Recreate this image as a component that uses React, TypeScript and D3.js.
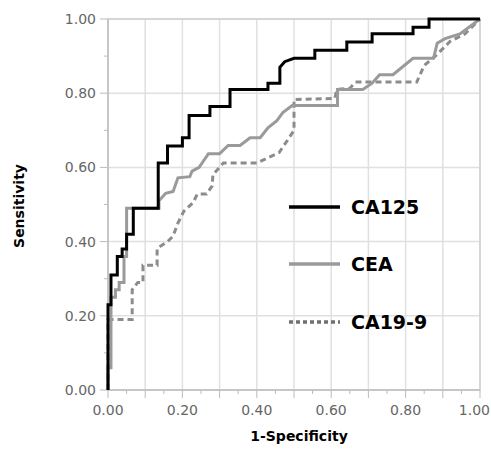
import React from 'react';
import * as d3 from 'd3';

// ROC points: [1-specificity, sensitivity]
const ca125: [number, number][] = [
  [0, 0], [0, 0.23], [0.008, 0.23], [0.008, 0.31], [0.025, 0.31], [0.025, 0.36],
  [0.038, 0.36], [0.038, 0.38], [0.05, 0.38], [0.05, 0.42], [0.068, 0.42], [0.068, 0.49],
  [0.135, 0.49], [0.135, 0.612], [0.16, 0.612], [0.16, 0.658], [0.2, 0.658], [0.2, 0.68],
  [0.218, 0.68], [0.218, 0.74], [0.274, 0.74], [0.274, 0.764], [0.328, 0.764], [0.328, 0.81],
  [0.43, 0.81], [0.43, 0.827], [0.462, 0.827], [0.462, 0.87], [0.475, 0.885], [0.5, 0.894],
  [0.556, 0.894], [0.556, 0.916], [0.642, 0.916], [0.642, 0.938], [0.71, 0.938], [0.71, 0.96],
  [0.82, 0.96], [0.82, 0.978], [0.863, 0.978], [0.863, 1], [1, 1],
];

const cea: [number, number][] = [
  [0, 0], [0, 0.06], [0.008, 0.06], [0.008, 0.25], [0.02, 0.25], [0.02, 0.27],
  [0.03, 0.27], [0.03, 0.29], [0.043, 0.29], [0.043, 0.36], [0.05, 0.36], [0.05, 0.49],
  [0.137, 0.49], [0.137, 0.51], [0.155, 0.53], [0.175, 0.535], [0.188, 0.572], [0.22, 0.575],
  [0.226, 0.59], [0.245, 0.6], [0.27, 0.637], [0.3, 0.637], [0.323, 0.659], [0.355, 0.659],
  [0.382, 0.68], [0.409, 0.68], [0.43, 0.707], [0.454, 0.726], [0.47, 0.748], [0.495, 0.767],
  [0.617, 0.767], [0.617, 0.81], [0.685, 0.81], [0.71, 0.827], [0.73, 0.85], [0.766, 0.85],
  [0.82, 0.894], [0.875, 0.894], [0.885, 0.935], [0.906, 0.947], [0.946, 0.96], [1, 1],
];

const ca199: [number, number][] = [
  [0, 0], [0, 0.19], [0.065, 0.19], [0.065, 0.27], [0.08, 0.29], [0.094, 0.29],
  [0.094, 0.336], [0.132, 0.336], [0.132, 0.382], [0.16, 0.4], [0.175, 0.415], [0.188, 0.45],
  [0.204, 0.482], [0.228, 0.504], [0.24, 0.528], [0.265, 0.528], [0.28, 0.55], [0.282, 0.58],
  [0.31, 0.612], [0.4, 0.612], [0.43, 0.626], [0.46, 0.64], [0.485, 0.677], [0.5, 0.7],
  [0.5, 0.783], [0.61, 0.786], [0.615, 0.81], [0.65, 0.813], [0.665, 0.83], [0.83, 0.83],
  [0.85, 0.875], [0.88, 0.9], [0.92, 0.94], [0.96, 0.96], [1, 1],
];

const seriesNames = ['CA125', 'CEA', 'CA19-9'];
const xTickLabels = ['0.00', '0.20', '0.40', '0.60', '0.80', '1.00'];
const yTickLabels = ['0.00', '0.20', '0.40', '0.60', '0.80', '1.00'];

const W = 491;
const H = 451;
const font = '"DejaVu Sans", Verdana, sans-serif';

const x = d3.scaleLinear().domain([0, 1]).range([108, 480]);
const y = d3.scaleLinear().domain([0, 1]).range([390, 19]);

const line = d3
  .line<[number, number]>()
  .x(d => x(d[0]))
  .y(d => y(d[1]));

const styles = [
  { data: ca125, color: '#000', dash: undefined, legendDash: undefined, legendColor: '#000' },
  { data: cea, color: '#9a9a9a', dash: undefined, legendDash: undefined, legendColor: '#9a9a9a' },
  { data: ca199, color: '#8c8c8c', dash: '6,4', legendDash: '4,3', legendColor: '#707070' },
];

const legendY = [207, 264, 322];

export default function App() {
  const xGrid = d3.range(0, 1.0001, 0.1);
  const yGrid = d3.range(0, 1.0001, 0.2);
  const xMinor = d3.range(0, 1.0001, 0.05);
  const yMinor = d3.range(0, 1.0001, 0.1);

  return (
    <svg
      width={W}
      height={H}
      style={{ position: 'absolute', left: 0, top: 0, background: '#fff' }}
    >
      {/* grid */}
      {xGrid.map((v, i) => (
        <line key={'gx' + i} x1={x(v)} x2={x(v)} y1={y(0)} y2={y(1)} stroke="#e0e0e0" strokeWidth={1.5} />
      ))}
      {yGrid.map((v, i) => (
        <line key={'gy' + i} x1={x(0)} x2={x(1)} y1={y(v)} y2={y(v)} stroke="#e0e0e0" strokeWidth={1.5} />
      ))}
      <rect x={x(0)} y={y(1)} width={x(1) - x(0)} height={y(0) - y(1)} fill="none" stroke="#d0d0d0" strokeWidth={1.5} />

      {/* ticks */}
      {xMinor.map((v, i) => (
        <line key={'tx' + i} x1={x(v)} x2={x(v)} y1={y(0)} y2={y(0) + (i % 2 === 0 ? 8 : 4)} stroke="#bbb" />
      ))}
      {yMinor.map((v, i) => (
        <line key={'ty' + i} x1={x(0) - (i % 2 === 0 ? 8 : 4)} x2={x(0)} y1={y(v)} y2={y(v)} stroke="#bbb" />
      ))}
      <line x1={x(0)} x2={x(1)} y1={y(0)} y2={y(0)} stroke="#c0c0c0" strokeWidth={1.5} />
      <line x1={x(0)} x2={x(0)} y1={y(0)} y2={y(1)} stroke="#c0c0c0" strokeWidth={1.5} />

      {xTickLabels.map((t, i) => {
        const last = i === xTickLabels.length - 1;
        return (
          <text
            key={'lx' + i}
            x={last ? W - 1 : x(i * 0.2)}
            y={415}
            textAnchor={last ? 'end' : 'middle'}
            fontFamily={font}
            fontSize={14}
            fill="#666"
          >
            {t}
          </text>
        );
      })}
      {yTickLabels.map((t, i) => (
        <text key={'ly' + i} x={96} y={y(i * 0.2)} dy="0.36em" textAnchor="end" fontFamily={font} fontSize={14} fill="#666">
          {t}
        </text>
      ))}

      {/* curves */}
      {styles
        .slice()
        .reverse()
        .map((s, i) => (
          <path
            key={'c' + i}
            d={line(s.data) || ''}
            fill="none"
            stroke={s.color}
            strokeWidth={3}
            strokeDasharray={s.dash}
            strokeLinejoin="miter"
          />
        ))}

      {/* legend */}
      {seriesNames.map((n, i) => (
        <g key={'lg' + i}>
          <line
            x1={289}
            x2={340}
            y1={legendY[i]}
            y2={legendY[i]}
            stroke={styles[i].legendColor}
            strokeWidth={3.5}
            strokeDasharray={styles[i].legendDash}
          />
          <text x={351} y={legendY[i] + 7} fontFamily={font} fontWeight="bold" fontSize={19} fill="#000">
            {n}
          </text>
        </g>
      ))}

      {/* axis titles */}
      <text x={299} y={441} textAnchor="middle" fontFamily={font} fontWeight="bold" fontSize={14} fill="#000">
        1-Specificity
      </text>
      <text
        transform={`translate(24,206) rotate(-90)`}
        textAnchor="middle"
        fontFamily={font}
        fontWeight="bold"
        fontSize={14}
        fill="#000"
      >
        Sensitivity
      </text>
    </svg>
  );
}
